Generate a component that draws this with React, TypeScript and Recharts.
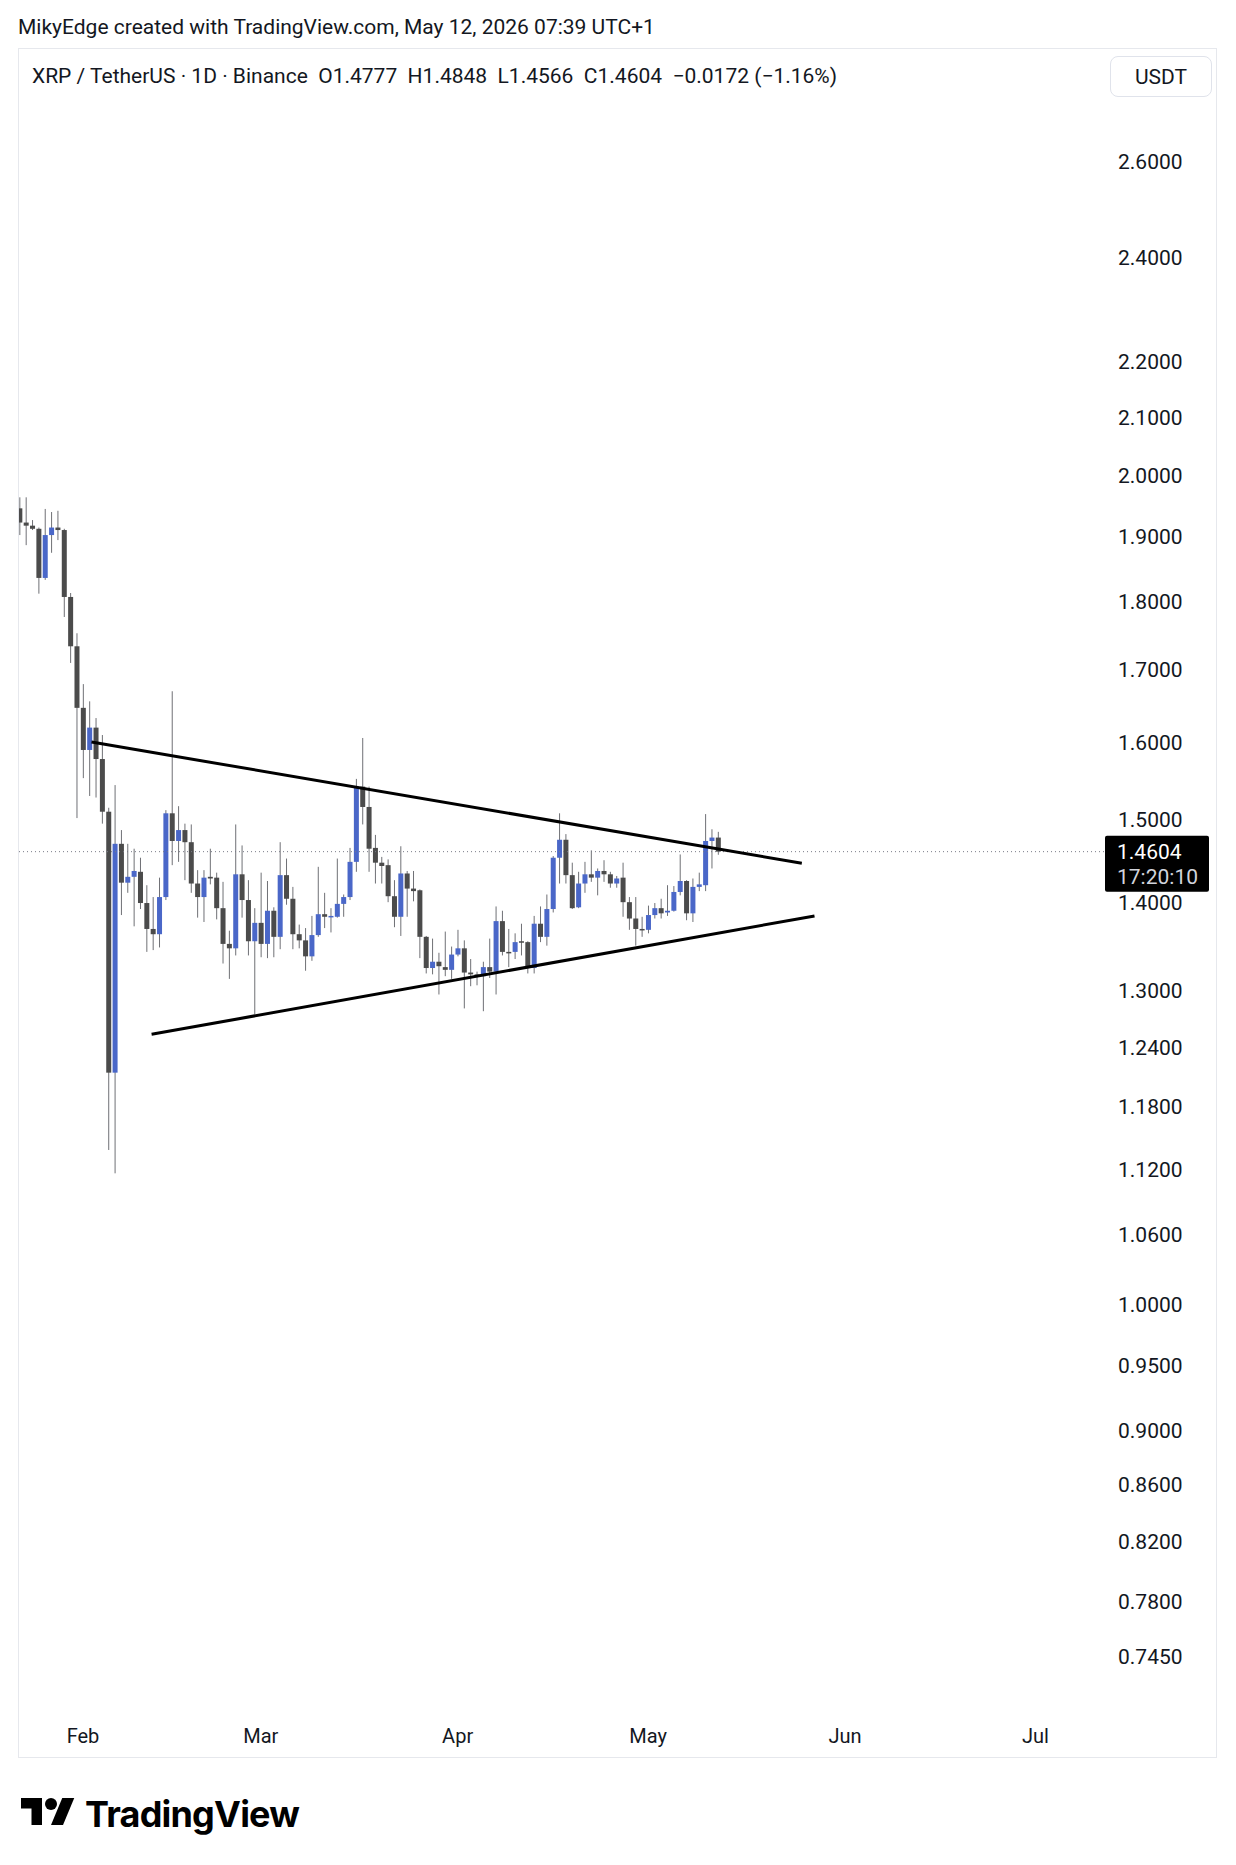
import React from 'react'
import {
  ComposedChart,
  Bar,
  XAxis,
  YAxis,
  ReferenceLine,
} from 'recharts'

// daily candles, Jan 22 -> May 12 (day 0 = Feb 1)
const firstDay = -10

const opens = [
  1.946, 1.923, 1.918, 1.913, 1.836, 1.903, 1.915, 1.911, 1.807, 1.734,
  1.647, 1.59, 1.62, 1.578, 1.51, 1.214, 1.47, 1.423, 1.43, 1.436,
  1.399, 1.369, 1.363, 1.406, 1.508, 1.4735, 1.487, 1.472, 1.422, 1.406,
  1.43, 1.429, 1.393, 1.352, 1.347, 1.433, 1.4025, 1.355, 1.376, 1.352,
  1.39, 1.36, 1.432, 1.404, 1.363, 1.356, 1.338, 1.362, 1.386, 1.383,
  1.383, 1.398, 1.406, 1.448, 1.542, 1.516, 1.465, 1.447, 1.444, 1.407,
  1.383, 1.434, 1.416, 1.414, 1.36, 1.325, 1.332, 1.326, 1.323, 1.34,
  1.347, 1.32, 1.318, 1.316, 1.326, 1.321, 1.378, 1.343, 1.343, 1.355,
  1.354, 1.325, 1.375, 1.36, 1.392, 1.453, 1.475, 1.432, 1.394, 1.422,
  1.433, 1.429, 1.437, 1.433, 1.422, 1.429, 1.4, 1.381, 1.369, 1.368,
  1.385, 1.393, 1.388, 1.39, 1.412, 1.425, 1.387, 1.418, 1.42, 1.4735,
  1.4777,
]
const highs = [
  1.964, 1.964, 1.927, 1.915, 1.945, 1.94, 1.942, 1.913, 1.813, 1.753,
  1.68, 1.656, 1.633, 1.61, 1.515, 1.544, 1.487, 1.47, 1.464, 1.453,
  1.42, 1.406, 1.429, 1.512, 1.67, 1.517, 1.495, 1.494, 1.438, 1.438,
  1.464, 1.435, 1.424, 1.367, 1.494, 1.468, 1.426, 1.393, 1.435, 1.425,
  1.394, 1.472, 1.452, 1.418, 1.374, 1.37, 1.384, 1.442, 1.411, 1.393,
  1.452, 1.409, 1.465, 1.552, 1.606, 1.542, 1.481, 1.454, 1.451, 1.426,
  1.467, 1.437, 1.437, 1.415, 1.361, 1.358, 1.342, 1.366, 1.349, 1.368,
  1.356, 1.335, 1.321, 1.332, 1.358, 1.395, 1.39, 1.369, 1.364, 1.375,
  1.355, 1.384, 1.395, 1.409, 1.455, 1.508, 1.482, 1.447, 1.436, 1.448,
  1.462, 1.44, 1.45, 1.436, 1.431, 1.447, 1.406, 1.406, 1.383, 1.396,
  1.399, 1.404, 1.42, 1.419, 1.457, 1.426, 1.428, 1.435, 1.507, 1.488,
  1.4848,
]
const lows = [
  1.903, 1.887, 1.911, 1.812, 1.833, 1.875, 1.895, 1.777, 1.71, 1.502,
  1.553, 1.53, 1.528, 1.495, 1.138, 1.116, 1.385, 1.411, 1.372, 1.392,
  1.343, 1.345, 1.348, 1.4025, 1.444, 1.448, 1.426, 1.411, 1.382, 1.377,
  1.421, 1.38, 1.33, 1.313, 1.339, 1.382, 1.339, 1.275, 1.337, 1.336,
  1.337, 1.346, 1.397, 1.346, 1.347, 1.322, 1.333, 1.36, 1.37, 1.365,
  1.382, 1.383, 1.4025, 1.436, 1.494, 1.436, 1.422, 1.422, 1.4, 1.371,
  1.361, 1.383, 1.401, 1.336, 1.319, 1.318, 1.296, 1.316, 1.313, 1.338,
  1.281, 1.305, 1.306, 1.278, 1.314, 1.296, 1.339, 1.326, 1.335, 1.339,
  1.319, 1.319, 1.354, 1.35, 1.388, 1.422, 1.422, 1.392, 1.393, 1.411,
  1.424, 1.408, 1.424, 1.417, 1.417, 1.383, 1.368, 1.35, 1.36, 1.364,
  1.381, 1.381, 1.384, 1.389, 1.408, 1.379, 1.377, 1.413, 1.413, 1.44,
  1.4566,
]
const closes = [
  1.923, 1.918, 1.913, 1.836, 1.903, 1.915, 1.911, 1.807, 1.734, 1.647,
  1.59, 1.62, 1.578, 1.51, 1.214, 1.47, 1.423, 1.43, 1.437, 1.399,
  1.369, 1.363, 1.406, 1.508, 1.4735, 1.487, 1.472, 1.422, 1.406, 1.429,
  1.428, 1.393, 1.352, 1.347, 1.433, 1.4025, 1.355, 1.376, 1.352, 1.39,
  1.36, 1.432, 1.404, 1.363, 1.356, 1.338, 1.362, 1.386, 1.383, 1.384,
  1.398, 1.406, 1.448, 1.542, 1.516, 1.464, 1.447, 1.443, 1.407, 1.383,
  1.434, 1.416, 1.413, 1.36, 1.325, 1.332, 1.327, 1.323, 1.34, 1.347,
  1.32, 1.318, 1.316, 1.326, 1.321, 1.378, 1.343, 1.342, 1.354, 1.354,
  1.326, 1.375, 1.36, 1.392, 1.453, 1.475, 1.432, 1.393, 1.422, 1.433,
  1.429, 1.437, 1.433, 1.422, 1.428, 1.4, 1.381, 1.369, 1.368, 1.385,
  1.393, 1.387, 1.39, 1.412, 1.425, 1.387, 1.418, 1.421, 1.4735, 1.4777,
  1.4604,
]

const priceTicks = [
  2.6, 2.4, 2.2, 2.1, 2.0, 1.9, 1.8, 1.7, 1.6, 1.5, 1.4, 1.3, 1.24, 1.18,
  1.12, 1.06, 1.0, 0.95, 0.9, 0.86, 0.82, 0.78, 0.745,
]
const monthDays = [0, 28, 59, 89, 120, 150]
const monthLabels = ['Feb', 'Mar', 'Apr', 'May', 'Jun', 'Jul']

// hand-drawn triangle
const upperLine = [
  { day: 1.34, price: 1.6006 },
  { day: 113.2, price: 1.4463 },
]
const lowerLine = [
  { day: 10.8, price: 1.2536 },
  { day: 115.2, price: 1.384 },
]

const lastPrice = 1.4604
const countdown = '17:20:10'

const UP = '#4a67c8'
const DOWN = '#4b4b4b'
const WICK = '#6f7075'
const TEXT = '#131722'
const FONT = 'Roboto, "Noto Sans", sans-serif'

const candles = opens.map((o, i) => ({
  day: firstDay + i,
  o,
  h: highs[i],
  l: lows[i],
  c: closes[i],
}))

function Candle(props: any) {
  const { x, y, width, height, payload } = props
  if (height == null || isNaN(y)) return null
  const { o, h, l, c } = payload
  const span = Math.log(h) - Math.log(l)
  const toY = (v: number) => y + ((Math.log(h) - Math.log(v)) / span) * height
  const top = toY(Math.max(o, c))
  const bottom = toY(Math.min(o, c))
  const cx = x + width / 2
  const color = c >= o ? UP : DOWN
  return (
    <g>
      <line x1={cx} x2={cx} y1={y} y2={y + height} stroke={WICK} strokeWidth={1} />
      <rect
        x={x}
        y={top}
        width={width}
        height={Math.max(bottom - top, 1.5)}
        fill={color}
      />
    </g>
  )
}

function PriceTag(props: any) {
  const { viewBox } = props
  if (!viewBox) return null
  const left = viewBox.x + viewBox.width + 1
  const y = viewBox.y
  return (
    <g>
      <rect x={left} y={y - 16} width={104} height={56} fill="#000" rx={2} />
      <text x={left + 12} y={y} dy="0.35em" fill="#fff" fontSize={21} fontFamily={FONT}>
        {lastPrice.toFixed(4)}
      </text>
      <text x={left + 12} y={y + 25} dy="0.35em" fill="#d1d4dc" fontSize={21} fontFamily={FONT}>
        {countdown}
      </text>
    </g>
  )
}

function Logo() {
  return (
    <div style={{ position: 'absolute', left: 21, top: 1790, display: 'flex', alignItems: 'center' }}>
      <svg width={54} height={42} viewBox="0 0 36 28">
        <path d="M14 22H7V11H0V4h14v18z" fill="#000" />
        <circle cx={20} cy={8} r={4} fill="#000" />
        <path d="M28 22h-8l7.5-18h8L28 22z" fill="#000" />
      </svg>
      <span
        style={{
          marginLeft: 10,
          fontFamily: 'Inter, Roboto, sans-serif',
          fontWeight: 700,
          fontSize: 36,
          letterSpacing: -0.8,
          color: '#000',
          marginTop: 2,
        }}
      >
        TradingView
      </span>
    </div>
  )
}

export default function App() {
  return (
    <div
      style={{
        position: 'absolute',
        left: 0,
        top: 0,
        width: 1236,
        height: 1865,
        background: '#fff',
        fontFamily: FONT,
        color: TEXT,
      }}
    >
      <div style={{ position: 'absolute', left: 18, top: 15, fontSize: 21, whiteSpace: 'nowrap' }}>
        MikyEdge created with TradingView.com, May 12, 2026 07:39 UTC+1
      </div>

      <div
        style={{
          position: 'absolute',
          left: 18,
          top: 48,
          width: 1199,
          height: 1710,
          border: '1px solid #e6e8ed',
          boxSizing: 'border-box',
        }}
      />

      <div style={{ position: 'absolute', left: 19, top: 49 }}>
        <ComposedChart
          width={1198}
          height={1708}
          data={candles}
          margin={{ top: 0, right: 0, bottom: 0, left: 0 }}
        >
          <XAxis
            dataKey="day"
            type="number"
            domain={[-10.08, 160.79]}
            allowDataOverflow
            ticks={monthDays}
            tickFormatter={(v: number) => monthLabels[monthDays.indexOf(v)]}
            axisLine={false}
            tickLine={false}
            tickSize={0}
            tickMargin={13}
            height={41}
            tick={{ fontSize: 20, fill: TEXT, fontFamily: FONT }}
            interval={0}
          />
          <YAxis
            orientation="right"
            scale="log"
            type="number"
            domain={[0.70893, 2.8572]}
            allowDataOverflow
            ticks={priceTicks}
            tickFormatter={(v: number) => v.toFixed(4)}
            axisLine={false}
            tickLine={false}
            tickSize={0}
            tickMargin={14}
            width={113}
            tick={{ fontSize: 21, fill: TEXT, fontFamily: FONT, textAnchor: 'start' }}
            interval={0}
          />
          <ReferenceLine
            y={lastPrice}
            stroke="#787b86"
            strokeDasharray="1 3"
            label={<PriceTag />}
          />
          <Bar
            dataKey={(d: any) => [d.l, d.h]}
            barSize={5}
            shape={<Candle />}
            isAnimationActive={false}
          />
          <ReferenceLine
            segment={[
              { x: upperLine[0].day, y: upperLine[0].price },
              { x: upperLine[1].day, y: upperLine[1].price },
            ]}
            stroke="#000"
            strokeWidth={3}
          />
          <ReferenceLine
            segment={[
              { x: lowerLine[0].day, y: lowerLine[0].price },
              { x: lowerLine[1].day, y: lowerLine[1].price },
            ]}
            stroke="#000"
            strokeWidth={3}
          />
        </ComposedChart>
      </div>

      <div
        style={{
          position: 'absolute',
          left: 32,
          top: 64,
          fontSize: 21,
          whiteSpace: 'pre',
        }}
      >
        {'XRP / TetherUS · 1D · Binance  O1.4777  H1.4848  L1.4566  C1.4604  −0.0172 (−1.16%)'}
      </div>

      <div
        style={{
          position: 'absolute',
          left: 1110,
          top: 56,
          width: 102,
          height: 41,
          border: '1px solid #e0e3eb',
          borderRadius: 8,
          boxSizing: 'border-box',
          display: 'flex',
          alignItems: 'center',
          justifyContent: 'center',
          fontSize: 21,
        }}
      >
        USDT
      </div>

      <Logo />
    </div>
  )
}
